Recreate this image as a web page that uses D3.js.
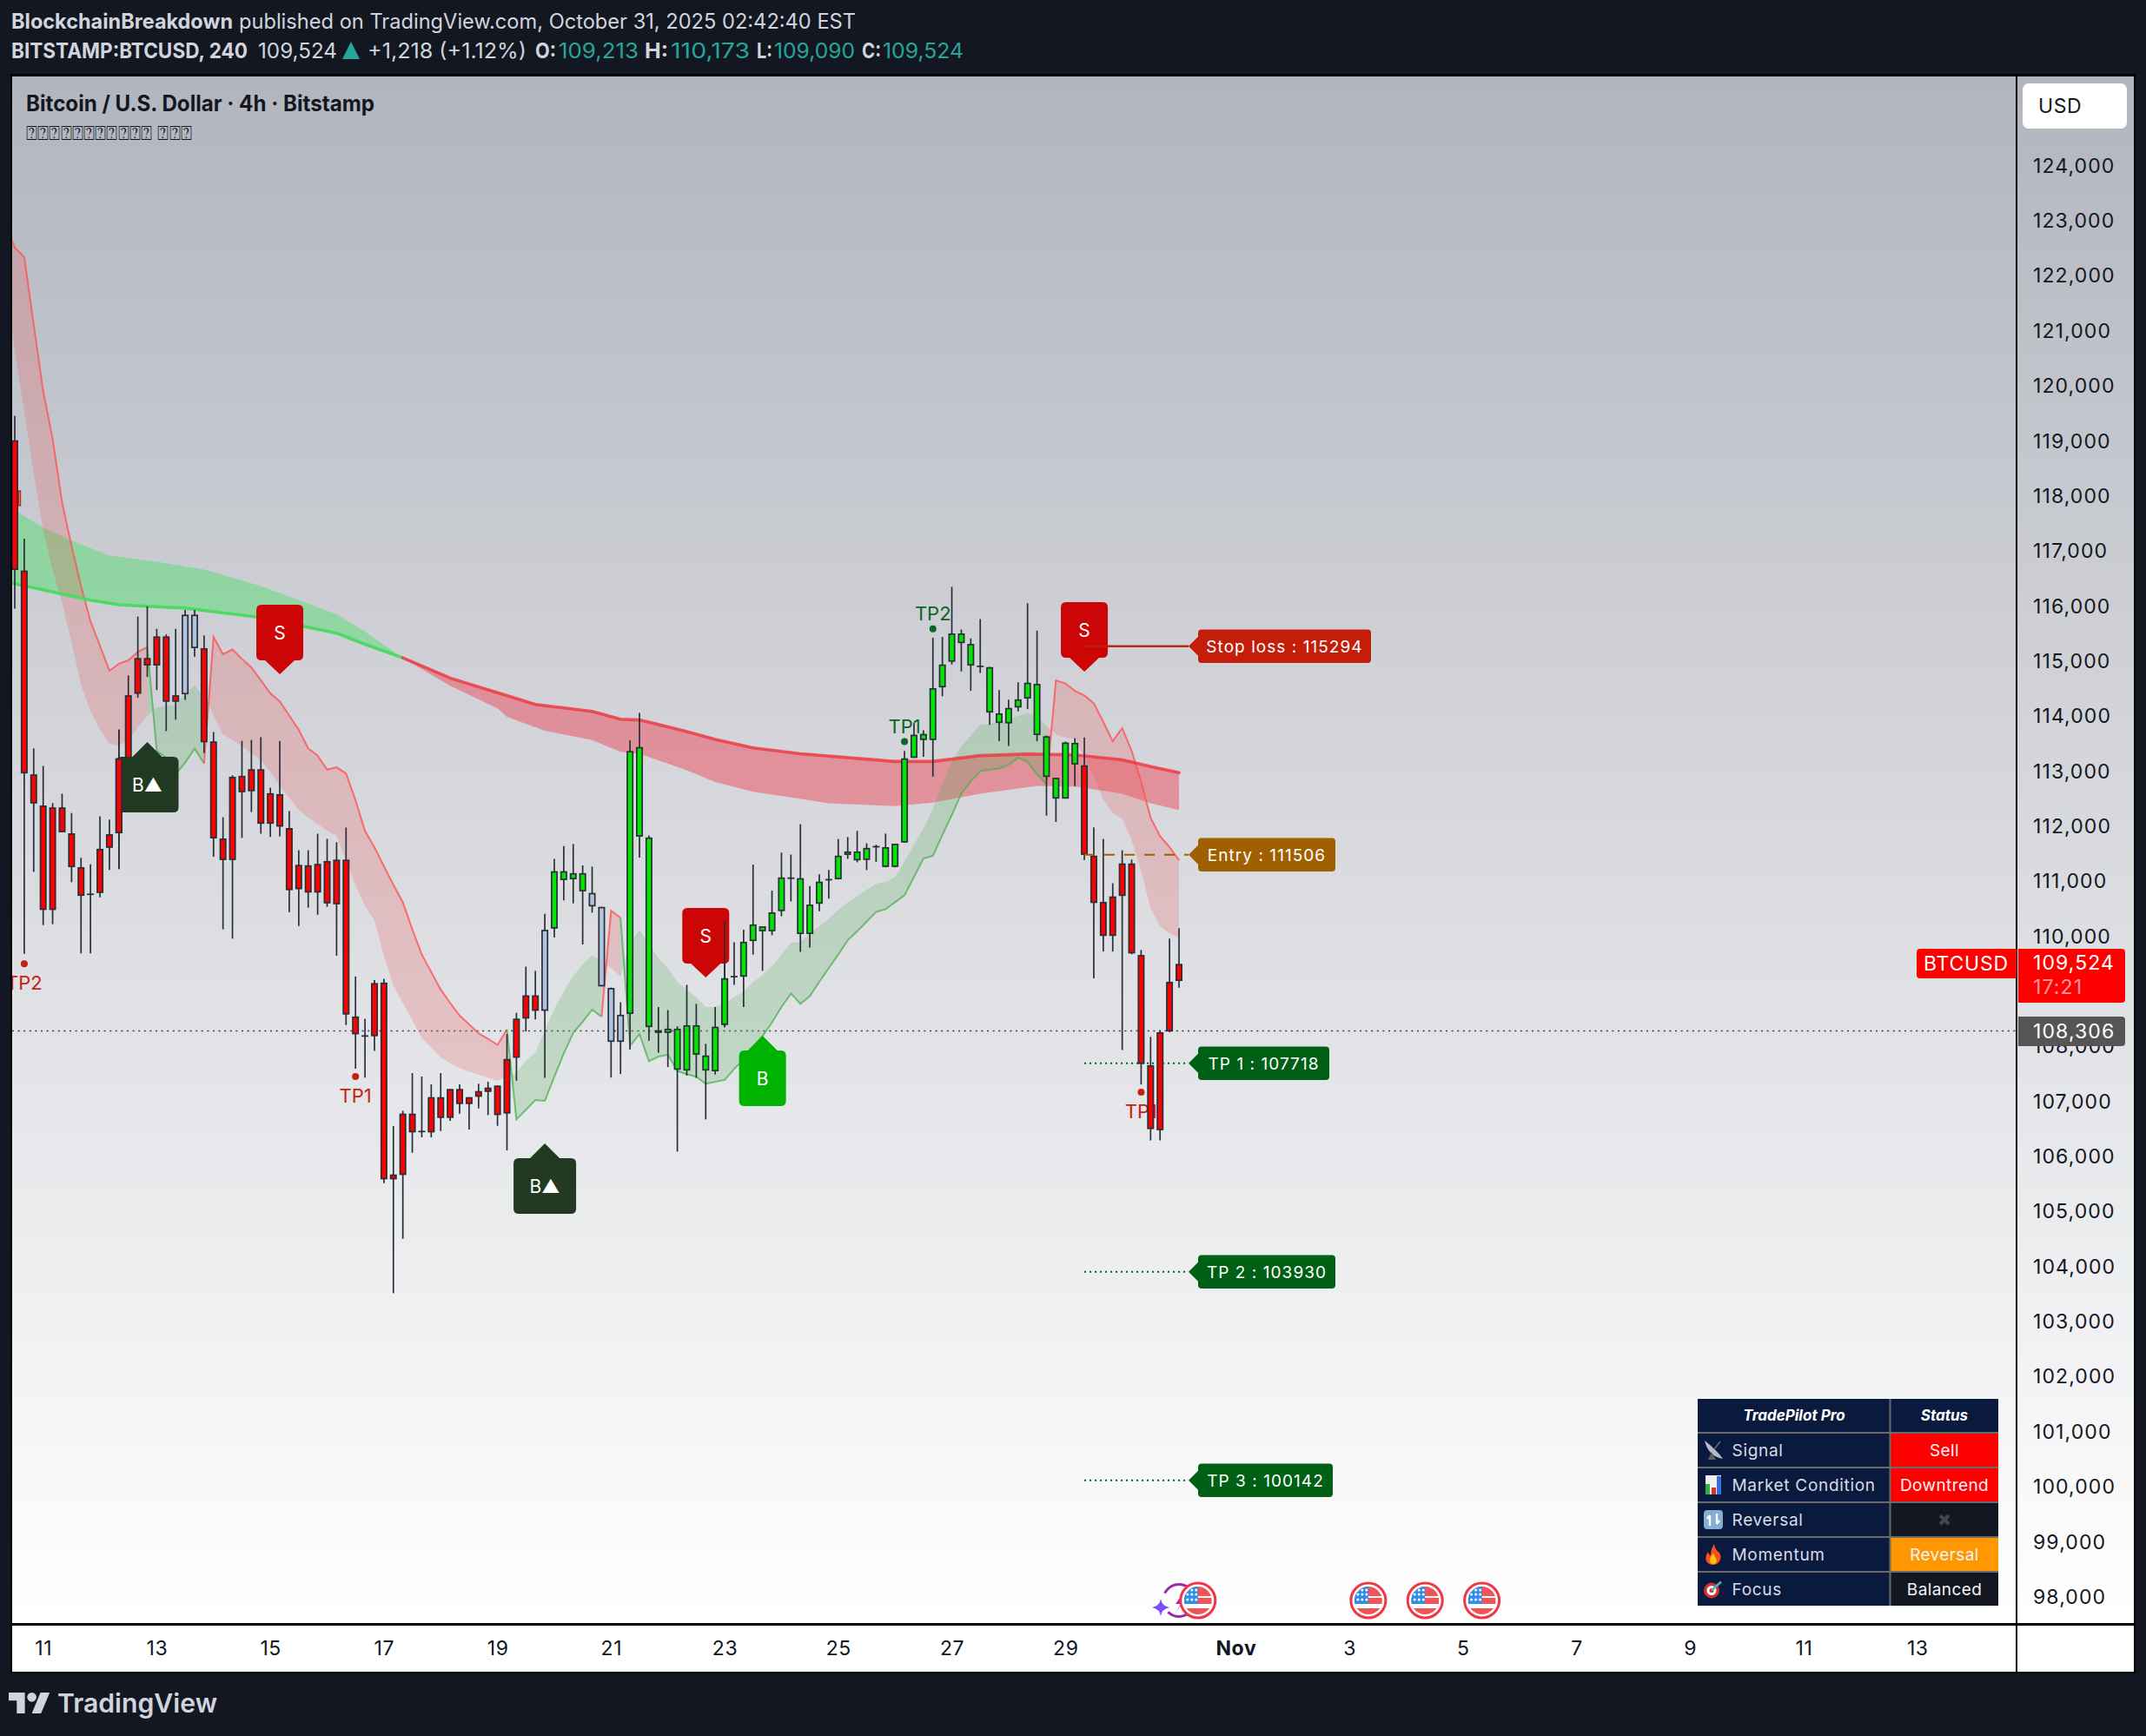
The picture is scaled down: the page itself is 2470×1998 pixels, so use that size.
<!DOCTYPE html>
<html>
<head>
<meta charset="utf-8">
<style>
  html, body { margin: 0; padding: 0; background: #131722; }
  svg { display: block; }
  text { font-family: Inter, "Noto Sans", sans-serif; }
</style>
<script src="https://cdn.jsdelivr.net/npm/d3@7"></script>
</head>
<body>
<script>
// candles, index 0 is the first bar on screen, 4h each
const highs = [119484,117248,113438,113121,112445,112616,112265,111452,111333,112206,112146,113780,114764,115834,116022,115611,115509,115611,115954,115954,115491,113737,112188,112950,113575,113592,113643,112727,113575,112300,111589,111589,111889,111795,111735,112000,109296,108526,109228,109253,106577,106856,107540,107477,107335,107540,107251,107335,107103,107345,107382,107314,108248,108636,109474,109397,110433,111433,111666,111701,111314,111292,110560,109094,108826,113583,114083,111856,108741,108685,108389,109143,108798,108072,108741,110313,109918,110144,111328,110207,110855,111546,111511,112061,110940,111152,111229,111793,111828,111941,111715,111687,111891,111708,113392,113900,113766,115450,115464,116373,115598,115436,115788,114922,114499,114323,114640,116077,115577,113674,112906,113562,113625,113639,112004,111793,110989,111588,111419,109777,108199,108319,109982,110173];
const bodyTops = [119037,116670,112967,112402,112368,112368,111897,111281,110802,111615,111880,113258,114405,115081,115081,115474,115474,114405,115868,115868,115260,113566,111803,112924,112941,113061,113061,112625,112608,111992,111324,111316,111341,111393,111418,111418,108569,108227,109176,109185,105699,106804,106804,106492,107103,107103,107251,107251,107103,107214,107277,107314,107797,108530,108953,108953,110144,111208,111208,111173,111173,110813,110560,109087,108600,113392,113463,111821,108319,108347,108347,108410,108410,107860,108382,109263,109305,109925,110242,110207,110461,111095,111095,111081,110602,111018,111067,111490,111567,111567,111631,111666,111645,111708,113259,113688,113703,114534,114964,115528,115528,115337,114943,114915,114076,114175,114330,114633,114612,113660,112906,113547,113540,113132,111490,110651,110750,111349,111349,109686,107684,108283,109199,109524];
const bodyBottoms = [116680,112984,112437,110503,110503,111915,111281,110759,110794,110811,111632,111897,113250,114430,114944,114944,114285,114285,114422,115260,113549,111803,111410,111410,112642,112659,112069,112069,112017,110862,110879,110819,110819,110622,110605,108603,108244,108218,108209,105609,105609,105688,106462,106485,106462,106725,106725,106977,106977,107109,107198,106777,106804,107818,108530,108671,108671,110165,111046,111060,110841,110567,109115,108107,108107,108615,111835,108375,108269,108269,107600,107586,107874,107586,107572,108417,109298,109291,109939,110116,110116,110482,111088,110066,110066,110616,111060,111060,111504,111405,111412,111659,111285,111285,111729,113266,113590,113590,114548,115013,115351,114943,114936,114090,113900,113893,114182,114344,113681,112920,112526,112526,113146,111504,110630,110031,110031,110757,109714,107705,106522,106501,108297,109213];
const lows = [115979,109707,111196,110229,110246,111915,111008,109715,109715,110734,111230,111247,113250,114362,114738,114499,113754,113960,114319,115106,113352,111470,110152,109981,111812,112283,111889,111829,111837,110460,110212,110545,110417,110562,109673,108415,107619,107456,107944,105541,103541,104530,106093,106372,106372,106488,106672,106804,106514,106898,106777,106582,106135,107402,108297,108516,107452,110003,110679,110623,109876,110454,109115,107459,107522,107966,111454,108128,107910,107649,106113,107494,107452,106698,107515,108375,109143,108741,109693,109397,110045,110390,110658,109742,109820,110482,110708,111060,111433,111370,111229,111377,111278,111278,111722,113266,113287,112927,114386,114964,114837,114485,114809,113865,113569,113484,114111,114154,113569,112216,112103,112526,112751,111412,109263,109749,109749,107959,109700,107332,106317,106317,108283,109090];
// body colour comes from the indicator, not from open/close
const tones = ('r'.repeat(18) + 'bb' + 'r'.repeat(36) + 'b' + 'gggg' + 'bbbb' + 'g'.repeat(48) + 'r'.repeat(11)).split('');

// slow ribbon, [bar, price]
const ribbonGreenLine = [[-2,116520],[0,116433],[8,116133],[11,116048],[14,116022],[18,115988],[26,115817],[34,115534],[37,115330],[41,115084]];
const ribbonGreenEdge = [[-2,117900],[0,117762],[3,117450],[6,117218],[10,116941],[15,116830],[20,116690],[26,116390],[34,115876],[37,115563],[38,115436],[41,115084]];
const ribbonRedLine = [[41,115084],[46,114717],[51,114450],[55,114238],[61,114111],[64,113970],[66,113956],[71,113745],[74,113604],[78,113449],[83,113343],[93,113202],[97,113202],[102,113308],[107,113336],[112,113322],[117,113230],[120,113110],[123,112998]];
const ribbonRedEdge = [[41,115084],[46,114576],[51,114168],[52,114013],[56,113759],[61,113590],[64,113378],[66,113343],[71,113040],[74,112829],[78,112653],[82,112547],[86,112441],[93,112392],[97,112455],[102,112617],[108,112758],[112,112744],[113,112723],[117,112617],[120,112441],[123,112321]];

// fast band, one value per bar from the given start bar
const fastRed1Line = [122960,122536,122363,121142,119931,119063,117906,117116,116390,115748,115303,114850,114978,115038,115192,115278];
const fastRed1Edge = [121826,120668,119563,118432,117406,116680,116090,115363,114593,114122,113780,113523,113489,113592,113823,114037];
const fastGreen1Line = [115278,113395,113267,112967,113181,113438,113164];
const fastGreen1Edge = [114037,114182,114208,114233,114422,114584,114379];
const fastRed2Line = [113164,115466,115149,115235,115064,114910,114678,114439,114293,114037,113780,113438,113309,113053,113095,112984,112497,111940,111641,111298,110961,110644,110151,109693,109376,109058,108812,108586,108424,108262,108164,108051,108333];
const fastRed2Edge = [114422,114037,113694,113592,113481,113352,113224,113010,112753,112539,112325,112180,112069,111940,111855,111384,110956,110571,110314,109673,109129,108812,108495,108178,108001,107826,107720,107635,107565,107508,107459,107403,107473];
const fastGreen2Line = [108333,106698,106874,107050,107036,107473,107896,108269,108474,108692,108565];
const fastGreen2Edge = [107473,107544,107769,107910,108318,108706,109023,109305,109517,109679,109587];
const fastRed3Line = [108565,110489,110362];
const fastRed3Edge = [109587,109446,109291];
const fastGreen3Line = [110362,108037,108248,107755,107839,107875,107579,107522,107473,107346,107381,107417,107614,107790,108016,108213,108460,108741,108988,108798,108939,109199,109446,109693,109954,110116,110292,110468,110517,110644,110771,111102,111440,111490,111863,112230,112617,112843,113026,113054,113075,113146,113273,113195,112970,112793];
const fastGreen3Edge = [109291,109904,110137,109883,109622,109446,109199,109058,108917,108741,108741,108812,108917,109023,109199,109319,109481,109693,109904,109925,110080,110207,110348,110503,110644,110750,110870,110982,111011,111102,111384,111687,111983,112335,112793,113202,113477,113674,113865,113886,113921,113970,114027,114083,114013,113851];
const fastRed4Line = [112793,114675,114619,114485,114400,114259,113921,113569,113808,113392,112829,112180,111842,111645,111405];
const fastRed4Edge = [113851,113696,113639,113604,113287,112934,112512,112265,112159,111772,111208,110538,110207,110080,109996];

const fastSegments = [
  { tone: 'red', from: -1, line: fastRed1Line, edge: fastRed1Edge },
  { tone: 'green', from: 14, line: fastGreen1Line, edge: fastGreen1Edge },
  { tone: 'red', from: 20, line: fastRed2Line, edge: fastRed2Edge },
  { tone: 'green', from: 52, line: fastGreen2Line, edge: fastGreen2Edge },
  { tone: 'red', from: 62, line: fastRed3Line, edge: fastRed3Edge },
  { tone: 'green', from: 64, line: fastGreen3Line, edge: fastGreen3Edge },
  { tone: 'red', from: 109, line: fastRed4Line, edge: fastRed4Edge }
];

// signal flags: bar, price of the tip, text, colour
const signals = [
  { bar: 14, price: 113554, text: 'B▲', color: '#233a22', wide: true, up: true },
  { bar: 28, price: 114786, text: 'S', color: '#cc0606', up: false },
  { bar: 56, price: 106262, text: 'B▲', color: '#233a22', wide: true, up: true },
  { bar: 73, price: 109277, text: 'S', color: '#cc0606', up: false },
  { bar: 79, price: 108219, text: 'B', color: '#00b300', up: true },
  { bar: 113, price: 114833, text: 'S', color: '#cc0606', up: false }
];
const hits = [
  { bar: 1, price: 109527, text: 'TP2', color: '#c8200f' },
  { bar: 36, price: 107478, text: 'TP1', color: '#c8200f' },
  { bar: 94, price: 113561, text: 'TP1', color: '#0a6620' },
  { bar: 97, price: 115609, text: 'TP2', color: '#0a6620' },
  { bar: 119, price: 107193, text: 'TP1', color: '#c8200f' }
];
const levels = [
  { price: 115294, text: 'Stop loss : 115294', color: '#c41e0b', dash: null, end: 1578 },
  { price: 111506, text: 'Entry : 111506', color: '#a05f00', dash: '12,11', end: 1537 },
  { price: 107718, text: 'TP 1 : 107718', color: '#006015', dash: '2,4', end: 1530 },
  { price: 103930, text: 'TP 2 : 103930', color: '#006015', dash: '2,4', end: 1537 },
  { price: 100142, text: 'TP 3 : 100142', color: '#006015', dash: '2,4', end: 1534 }
];

const priceTicks = d3.range(98000, 124001, 1000);
const timeBars = [3,15,27,39,51,63,75,87,99,111,129,141,153,165,177,189,201];
const timeLabels = ['11','13','15','17','19','21','23','25','27','29','Nov','3','5','7','9','11','13'];
const eventBars = [125,143,149,155];

const tableRows = ['Signal','Market Condition','Reversal','Momentum','Focus'];
const tableStatus = ['Sell','Downtrend','✖','Reversal','Balanced'];
const tableColors = ['#ff0000','#ff0000','#131722','#ff9800','#131722'];

const width = 2470, height = 1998;
const plot = { left: 14, right: 2320, top: 88, bottom: 1868 };
const axisRight = 2456;

const x = d3.scaleLinear().domain([0, 123]).range([17, 1357]);
const y = d3.scaleLinear().domain([98000, 124000]).range([1839.4, 192.3]);

const svg = d3.select('body').append('svg').attr('width', width).attr('height', height);
const defs = svg.append('defs');

const grad = defs.append('linearGradient').attr('id', 'bg').attr('x1', 0).attr('x2', 0).attr('y1', 0).attr('y2', 1);
grad.append('stop').attr('offset', 0).attr('stop-color', '#b2b5be');
grad.append('stop').attr('offset', 1).attr('stop-color', '#ffffff');
defs.append('clipPath').attr('id', 'plot-clip').append('rect')
  .attr('x', plot.left).attr('y', plot.top).attr('width', plot.right - plot.left).attr('height', plot.bottom - plot.top);

// frame
svg.append('rect').attr('width', width).attr('height', height).attr('fill', '#131722');
svg.append('rect').attr('x', plot.left - 2).attr('y', plot.top - 3).attr('width', axisRight - plot.left + 4).attr('height', 1926 - plot.top + 3).attr('fill', '#000');
svg.append('rect').attr('x', plot.left).attr('y', plot.top).attr('width', plot.right - plot.left).attr('height', plot.bottom - plot.top).attr('fill', 'url(#bg)');
svg.append('rect').attr('x', plot.right + 2).attr('y', plot.top).attr('width', axisRight - plot.right - 2).attr('height', plot.bottom - plot.top).attr('fill', 'url(#bg)');
svg.append('rect').attr('x', plot.left).attr('y', plot.bottom + 3).attr('width', plot.right - plot.left).attr('height', 1924 - plot.bottom - 3).attr('fill', '#fff');
svg.append('rect').attr('x', plot.right + 2).attr('y', plot.bottom + 3).attr('width', axisRight - plot.right - 2).attr('height', 1924 - plot.bottom - 3).attr('fill', '#fff');

const chart = svg.append('g').attr('clip-path', 'url(#plot-clip)');
const path = d3.line().x(d => x(d[0])).y(d => y(d[1]));

function band(line, edge, fill) {
  chart.append('path').attr('d', path(line.concat(edge.slice().reverse())) + 'Z').attr('fill', fill);
}

// slow ribbon
band(ribbonGreenLine, ribbonGreenEdge, 'rgba(0,230,40,0.29)');
band(ribbonRedLine, ribbonRedEdge, 'rgba(242,54,69,0.43)');

// last price line sits under the bands
chart.append('line').attr('x1', plot.left).attr('x2', plot.right).attr('y1', y(108306)).attr('y2', y(108306))
  .attr('stroke', '#3a3d46').attr('stroke-width', 1.6).attr('stroke-dasharray', '2,4.6');

// fast band
fastSegments.forEach(function (s) {
  const line = s.line.map((v, i) => [s.from + i, v]);
  const edge = s.edge.map((v, i) => [s.from + i, v]);
  band(line, edge, s.tone === 'red' ? 'rgba(239,83,80,0.23)' : 'rgba(76,175,80,0.23)');
  chart.append('path').attr('d', path(line)).attr('fill', 'none').attr('stroke-width', 2)
    .attr('stroke', s.tone === 'red' ? 'rgba(255,82,82,0.8)' : 'rgba(76,175,80,0.75)');
});

chart.append('path').attr('d', path(ribbonGreenLine)).attr('fill', 'none').attr('stroke', '#4cd964').attr('stroke-width', 3.6);
chart.append('path').attr('d', path(ribbonRedLine)).attr('fill', 'none').attr('stroke', 'rgba(236,60,66,0.85)').attr('stroke-width', 3.6).attr('stroke-linecap', 'round');

// leftover sliver of an older label, poking out behind the first candle
chart.append('rect').attr('x', x(0) + 4.5).attr('width', 2).attr('y', y(118115)).attr('height', y(117850) - y(118115))
  .attr('fill', 'none').attr('stroke', '#c8200f').attr('stroke-width', 1.4);

// TP hits go under the candles, they get covered in the original too
const hitG = chart.selectAll('g.hit').data(hits).join('g').attr('class', 'hit');
hitG.append('circle').attr('cx', d => x(d.bar)).attr('cy', d => y(d.price)).attr('r', 4).attr('fill', d => d.color);
hitG.append('text').attr('x', d => x(d.bar)).attr('y', d => y(d.price) + (d.color === '#c8200f' ? 30 : -10))
  .attr('text-anchor', 'middle').attr('font-size', 22).attr('fill', d => d.color).text(d => d.text);

const toneColor = { r: '#ff0000', g: '#00e600', b: '#b0c4de' };
const bodyW = 8, border = 1.7;

function drawCandles(parent, indexes) {
  const g = parent.selectAll(null).data(indexes).join('g');
  g.append('line').attr('x1', i => x(i)).attr('x2', i => x(i)).attr('y1', i => y(highs[i])).attr('y2', i => y(lows[i]))
    .attr('stroke', '#2a2e39').attr('stroke-width', border);
  g.append('rect').attr('x', i => x(i) - bodyW / 2 + border / 2).attr('width', bodyW - border)
    .attr('y', i => y(bodyTops[i]) + border / 2)
    .attr('height', i => Math.max(0.01, y(bodyBottoms[i]) - y(bodyTops[i]) - border))
    .attr('fill', i => toneColor[tones[i]]).attr('stroke', '#2a2e39').attr('stroke-width', border);
}
drawCandles(chart, d3.range(highs.length));

// level lines and price flags
levels.forEach(function (l) {
  const cy = y(l.price);
  const h = 38.5;
  chart.append('line').attr('x1', x(113)).attr('x2', 1368).attr('y1', cy).attr('y2', cy)
    .attr('stroke', l.color).attr('stroke-width', 2).attr('stroke-dasharray', l.dash);
  svg.append('path').attr('fill', l.color)
    .attr('d', `M1368,${cy}L1379,${cy - 11}L1379,${cy - h / 2 + 4}Q1379,${cy - h / 2} 1383,${cy - h / 2}L${l.end - 4},${cy - h / 2}Q${l.end},${cy - h / 2} ${l.end},${cy - h / 2 + 4}L${l.end},${cy + h / 2 - 4}Q${l.end},${cy + h / 2} ${l.end - 4},${cy + h / 2}L1383,${cy + h / 2}Q1379,${cy + h / 2} 1379,${cy + h / 2 - 4}L1379,${cy + 11}Z`);
  svg.append('text').attr('x', (1379 + l.end) / 2).attr('y', cy + 7).attr('text-anchor', 'middle')
    .attr('font-size', 19).attr('letter-spacing', 1.05).attr('fill', '#fff').text(l.text);
});

// signal flags sit over the candles
signals.forEach(function (s) {
  const cx = x(s.bar), tip = y(s.price);
  const halfW = s.wide ? 36 : 27, tipH = s.up ? 17 : 16, boxH = 64, r = 6, dir = s.up ? 1 : -1;
  const near = tip + dir * tipH, far = near + dir * boxH;
  const p = d3.path();
  p.moveTo(cx, tip);
  p.lineTo(cx + 17, near);
  p.lineTo(cx + halfW - r, near);
  p.quadraticCurveTo(cx + halfW, near, cx + halfW, near + dir * r);
  p.lineTo(cx + halfW, far - dir * r);
  p.quadraticCurveTo(cx + halfW, far, cx + halfW - r, far);
  p.lineTo(cx - halfW + r, far);
  p.quadraticCurveTo(cx - halfW, far, cx - halfW, far - dir * r);
  p.lineTo(cx - halfW, near + dir * r);
  p.quadraticCurveTo(cx - halfW, near, cx - halfW + r, near);
  p.lineTo(cx - 17, near);
  p.closePath();
  chart.append('path').attr('d', p.toString()).attr('fill', s.color);
  chart.append('text').attr('x', cx).attr('y', (near + far) / 2 + 7.5).attr('text-anchor', 'middle')
    .attr('font-size', 21).attr('fill', '#fff').text(s.text);
});

// a couple of candles stay on top of the flags
drawCandles(chart, [11, 75]);
chart.append('line').attr('x1', x(113)).attr('x2', 1368).attr('y1', y(115294)).attr('y2', y(115294))
  .attr('stroke', levels[0].color).attr('stroke-width', 2);

// axes
const priceAxis = svg.append('g').attr('transform', `translate(${plot.right},-1.4)`)
  .call(d3.axisRight(y).tickValues(priceTicks).tickFormat(d3.format(',')).tickSize(0).tickPadding(20));
priceAxis.select('.domain').remove();
priceAxis.selectAll('text').attr('font-size', 23).attr('letter-spacing', 1.1).attr('font-family', 'Inter, sans-serif').attr('fill', '#131722');

const timeAxis = svg.append('g').attr('transform', `translate(0,${plot.bottom + 21})`)
  .call(d3.axisBottom(x).tickValues(timeBars).tickFormat((d, i) => timeLabels[i]).tickSize(0).tickPadding(0));
timeAxis.select('.domain').remove();
timeAxis.selectAll('text').attr('font-size', 23).attr('letter-spacing', 0.6).attr('font-family', 'Inter, sans-serif').attr('fill', '#131722')
  .attr('font-weight', (d, i) => timeLabels[i] === 'Nov' ? 700 : 400);

// USD button
svg.append('rect').attr('x', 2328).attr('y', 96).attr('width', 120).attr('height', 52).attr('rx', 7).attr('fill', '#fff');
svg.append('text').attr('x', 2346).attr('y', 130).attr('font-size', 23).attr('letter-spacing', 0.6).attr('fill', '#131722').text('USD');

// last price tags
svg.append('path').attr('fill', '#ff0000')
  .attr('d', 'M2321,1092L2210,1092Q2206,1092 2206,1096L2206,1122Q2206,1126 2210,1126L2321,1126Z');
svg.append('path').attr('fill', '#ff0000')
  .attr('d', 'M2323,1092L2442,1092Q2446,1092 2446,1096L2446,1150Q2446,1154 2442,1154L2323,1154Z');
svg.append('text').attr('x', 2214).attr('y', 1117).attr('font-size', 23).attr('letter-spacing', 0.8).attr('fill', '#fff').text('BTCUSD');
svg.append('text').attr('x', 2340).attr('y', 1116).attr('font-size', 23).attr('letter-spacing', 1.1).attr('fill', '#fff').text('109,524');
svg.append('text').attr('x', 2340).attr('y', 1144).attr('font-size', 23).attr('letter-spacing', 1.1).attr('fill', 'rgba(255,255,255,0.6)').text('17:21');
svg.append('path').attr('fill', '#555555')
  .attr('d', 'M2323,1170L2442,1170Q2446,1170 2446,1174L2446,1200Q2446,1204 2442,1204L2323,1204Z');
svg.append('text').attr('x', 2340).attr('y', 1195).attr('font-size', 23).attr('letter-spacing', 1.1).attr('fill', '#fff').text('108,306');

// chart title
svg.append('text').attr('x', 30).attr('y', 128).attr('font-size', 25).attr('font-family', '"Noto Sans", sans-serif')
  .attr('font-weight', 700).attr('fill', '#131722').attr('textLength', 401).attr('lengthAdjust', 'spacingAndGlyphs')
  .text('Bitcoin / U.S. Dollar · 4h · Bitstamp');
svg.append('text').attr('x', 30).attr('y', 161).attr('font-size', 23).attr('font-family', '"DejaVu Sans Mono", monospace')
  .attr('fill', '#131722').attr('textLength', 191).attr('lengthAdjust', 'spacingAndGlyphs').text('⍰⍰⍰⍰⍰⍰⍰⍰⍰⍰⍰ ⍰⍰⍰');

// header lines
const headerFont = '"Noto Sans", sans-serif';
const headerGrey = '#d1d4dc', teal = '#26a69a';
const headerParts = [
  ['BlockchainBreakdown', 13, 33, 255, 700, headerGrey],
  ['published on TradingView.com, October 31, 2025 02:42:40 EST', 275, 33, 710, 400, headerGrey],
  ['BITSTAMP:BTCUSD, 240', 13, 67, 272, 700, headerGrey],
  ['109,524', 297, 67, 91, 400, headerGrey],
  ['+1,218 (+1.12%)', 423, 67, 183, 400, headerGrey],
  ['O:', 616, 67, 24, 700, headerGrey],
  ['109,213', 643, 67, 92, 400, teal],
  ['H:', 742, 67, 27, 700, headerGrey],
  ['110,173', 772, 67, 91, 400, teal],
  ['L:', 871, 67, 18, 700, headerGrey],
  ['109,090', 891, 67, 93, 400, teal],
  ['C:', 992, 67, 22, 700, headerGrey],
  ['109,524', 1016, 67, 93, 400, teal]
];
svg.selectAll('text.head').data(headerParts).join('text').attr('class', 'head')
  .attr('x', d => d[1]).attr('y', d => d[2]).attr('textLength', d => d[3]).attr('lengthAdjust', 'spacingAndGlyphs')
  .attr('font-size', 24).attr('font-family', headerFont).attr('font-weight', d => d[4]).attr('fill', d => d[5]).text(d => d[0]);
svg.append('path').attr('d', 'M394,68L414,68L404,48Z').attr('fill', teal);

// economic events along the bottom
function flag(cx, cy, id) {
  const g = svg.append('g').attr('transform', `translate(${cx},${cy})`);
  defs.append('clipPath').attr('id', id).append('circle').attr('r', 16);
  g.append('circle').attr('r', 20).attr('fill', '#fff').attr('stroke', '#f23645').attr('stroke-width', 3);
  const inner = g.append('g').attr('clip-path', `url(#${id})`);
  inner.append('rect').attr('x', -16).attr('y', -16).attr('width', 32).attr('height', 11).attr('fill', '#f0545a');
  inner.append('rect').attr('x', -16).attr('y', -3).attr('width', 32).attr('height', 7).attr('fill', '#f0545a');
  inner.append('rect').attr('x', -16).attr('y', 9).attr('width', 32).attr('height', 8).attr('fill', '#f0545a');
  inner.append('rect').attr('x', -16).attr('y', -16).attr('width', 16).attr('height', 20).attr('fill', '#2f8fe8');
  [-12, -7, -1].forEach(sy => [-12, -7, -2].forEach(function (sx) {
    inner.append('circle').attr('cx', sx).attr('cy', sy).attr('r', 1.5).attr('fill', '#fff');
  }));
}
const earn = svg.append('g').attr('transform', 'translate(1357,1842)');
const arc = d3.arc().innerRadius(17).outerRadius(20);
earn.append('path').attr('d', arc({ startAngle: -1.1, endAngle: 0.6 })).attr('fill', '#9c27b0');
earn.append('path').attr('d', arc({ startAngle: 2.3, endAngle: 3.9 })).attr('fill', '#9c27b0');
earn.append('path').attr('d', 'M6,-10L-4,4L2,4L-3,13L7,-2L1,-2Z').attr('fill', '#9c27b0');
earn.append('path').attr('d', 'M-21,-2Q-20,6 -11,8Q-20,10 -21,18Q-22,10 -31,8Q-22,6 -21,-2Z').attr('fill', '#7c4dff');
eventBars.forEach((b, i) => flag(x(b), 1842, `usflag${i}`));

// status table
const tableX = [1954, 2175.5, 2300];
const tableY = [1610, 1649, 1689, 1729, 1769, 1809, 1848];
const table = svg.append('g');
table.append('rect').attr('x', tableX[0]).attr('y', tableY[0]).attr('width', tableX[2] - tableX[0]).attr('height', tableY[6] - tableY[0]).attr('fill', '#0a1a3e');
table.selectAll('rect.status').data(tableStatus).join('rect').attr('class', 'status')
  .attr('x', tableX[1]).attr('y', (d, i) => tableY[i + 1]).attr('width', tableX[2] - tableX[1]).attr('height', (d, i) => tableY[i + 2] - tableY[i + 1])
  .attr('fill', (d, i) => tableColors[i]);
tableY.slice(1, 6).forEach(function (v) {
  table.append('line').attr('x1', tableX[0]).attr('x2', tableX[2]).attr('y1', v).attr('y2', v).attr('stroke', '#6b6b6b').attr('stroke-width', 2);
});
table.append('line').attr('x1', tableX[1]).attr('x2', tableX[1]).attr('y1', tableY[0]).attr('y2', tableY[6]).attr('stroke', '#6b6b6b').attr('stroke-width', 2);
table.append('text').attr('x', 2065).attr('y', 1635).attr('text-anchor', 'middle').attr('font-size', 17).attr('font-family', headerFont)
  .attr('font-weight', 700).attr('font-style', 'italic').attr('fill', '#fff').text('TradePilot Pro');
table.append('text').attr('x', 2238).attr('y', 1635).attr('text-anchor', 'middle').attr('font-size', 17).attr('font-family', headerFont)
  .attr('font-weight', 700).attr('font-style', 'italic').attr('fill', '#fff').text('Status');
table.selectAll('text.row').data(tableRows).join('text').attr('class', 'row')
  .attr('x', 1993.5).attr('y', (d, i) => tableY[i + 1] + 27).attr('font-size', 19).attr('fill', '#d8dbe4').attr('letter-spacing', 0.7).text(d => d);
table.selectAll('text.stat').data(tableStatus).join('text').attr('class', 'stat')
  .attr('x', 2238).attr('y', (d, i) => tableY[i + 1] + 27).attr('text-anchor', 'middle').attr('font-size', 19).attr('letter-spacing', 0.4)
  .attr('font-family', d => d === '✖' ? '"DejaVu Sans", sans-serif' : null)
  .attr('fill', d => d === '✖' ? '#44464d' : '#f2f3f6').text(d => d);

// little row icons
const ic = i => table.append('g').attr('transform', `translate(1972,${(tableY[i + 1] + tableY[i + 2]) / 2})`);
const dish = ic(0);
dish.append('path').attr('d', 'M-10,-11Q-6,7 11,10Q3,-1 -10,-11Z').attr('fill', '#b8bcc4');
dish.append('path').attr('d', 'M-2,2L-6,11L3,11Z').attr('fill', '#5a5e66');
dish.append('path').attr('d', 'M1,-1L8,-10').attr('stroke', '#5a5e66').attr('stroke-width', 2);
const bars3 = ic(1);
bars3.append('rect').attr('x', -9).attr('y', -11).attr('width', 18).attr('height', 22).attr('fill', '#eef0f4');
bars3.append('rect').attr('x', -9).attr('y', -1).attr('width', 5).attr('height', 12).attr('fill', '#2fb344');
bars3.append('rect').attr('x', -2).attr('y', 3).attr('width', 5).attr('height', 8).attr('fill', '#d9302c');
bars3.append('rect').attr('x', 4).attr('y', -10).attr('width', 5).attr('height', 21).attr('fill', '#2f6fe0');
const rev = ic(2);
rev.append('rect').attr('x', -11).attr('y', -11).attr('width', 22).attr('height', 22).attr('rx', 4).attr('fill', '#86aed2');
rev.append('path').attr('d', 'M-4,7L-4,-5M-4,-5L-7,-1M4,-7L4,5M4,5L7,1').attr('stroke', '#fff').attr('stroke-width', 2.4).attr('fill', 'none');
const fire = ic(3);
fire.append('path').attr('d', 'M1,-12Q2,-5 7,-2Q10,3 7,8Q4,12 0,12Q-5,12 -8,8Q-10,2 -6,-3Q-5,1 -3,1Q-3,-6 1,-12Z').attr('fill', '#f4511e');
fire.append('path').attr('d', 'M0,-1Q3,4 4,7Q3,11 0,11Q-4,11 -4,7Q-4,3 0,-1Z').attr('fill', '#ffc107');
const dart = ic(4);
dart.append('circle').attr('cy', 2).attr('cx', -2).attr('r', 9).attr('fill', '#d32f2f');
dart.append('circle').attr('cy', 2).attr('cx', -2).attr('r', 5.5).attr('fill', '#fff');
dart.append('circle').attr('cy', 2).attr('cx', -2).attr('r', 2.5).attr('fill', '#d32f2f');
dart.append('path').attr('d', 'M-2,2L9,-8').attr('stroke', '#4db6c4').attr('stroke-width', 2.5);

// footer logo
const logo = svg.append('g').attr('transform', 'translate(10,1942.7) scale(1.33)').attr('fill', '#d1d4dc');
logo.append('path').attr('d', 'M14 22H7V11H0V4h14v18zM28 22h-8l7.5-18h8L28 22z');
logo.append('circle').attr('cx', 20).attr('cy', 8).attr('r', 4);
svg.append('text').attr('x', 66).attr('y', 1971).attr('font-size', 30).attr('font-family', headerFont).attr('font-weight', 600)
  .attr('fill', '#d1d4dc').attr('textLength', 184).attr('lengthAdjust', 'spacingAndGlyphs').text('TradingView');
</script>
</body>
</html>
